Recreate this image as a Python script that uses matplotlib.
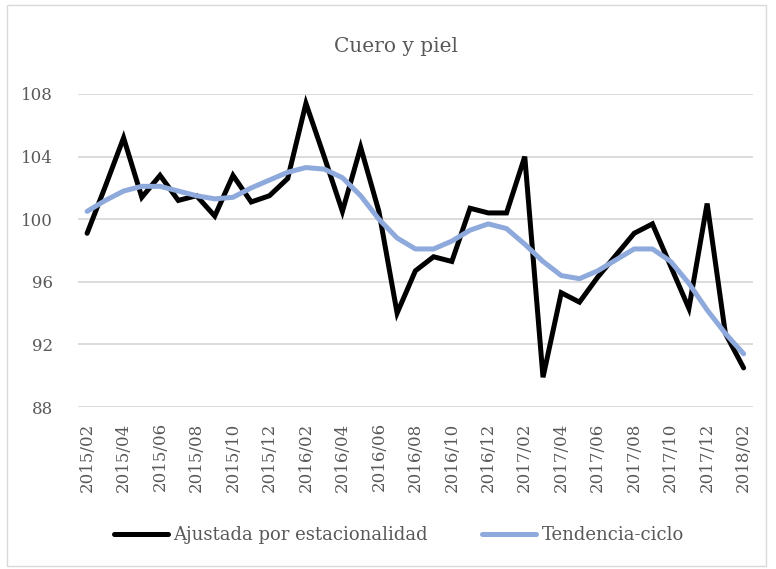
import matplotlib.pyplot as plt
import numpy as np
from matplotlib.patches import Rectangle

# monthly series 2015/02 - 2018/02
months = ['2015/02', '2015/03', '2015/04', '2015/05', '2015/06', '2015/07', '2015/08',
          '2015/09', '2015/10', '2015/11', '2015/12', '2016/01', '2016/02', '2016/03',
          '2016/04', '2016/05', '2016/06', '2016/07', '2016/08', '2016/09', '2016/10',
          '2016/11', '2016/12', '2017/01', '2017/02', '2017/03', '2017/04', '2017/05',
          '2017/06', '2017/07', '2017/08', '2017/09', '2017/10', '2017/11', '2017/12',
          '2018/01', '2018/02']

ajustada = [99.1, 102.1, 105.2, 101.4, 102.8, 101.2, 101.5, 100.2, 102.8, 101.1,
            101.5, 102.6, 107.4, 104.0, 100.5, 104.6, 100.5, 94.0, 96.7, 97.6,
            97.3, 100.7, 100.4, 100.4, 104.0, 89.9, 95.3, 94.7, 96.3, 97.7,
            99.1, 99.7, 97.0, 94.3, 101.0, 92.7, 90.5]

tendencia = [100.5, 101.2, 101.8, 102.1, 102.1, 101.8, 101.5, 101.3, 101.4, 102.0,
             102.5, 103.0, 103.3, 103.2, 102.65, 101.5, 100.0, 98.8, 98.1, 98.1,
             98.6, 99.3, 99.7, 99.4, 98.4, 97.3, 96.4, 96.2, 96.7, 97.4,
             98.1, 98.1, 97.3, 95.9, 94.2, 92.7, 91.4]

yticks = [88, 92, 96, 100, 104, 108]

plt.rcParams['font.family'] = ['DejaVu Serif']
txt = '#595959'

fig = plt.figure(figsize=(7.76, 5.69), dpi=100)
ax = fig.add_axes([0.1005, 0.2847, 0.8695, 0.5501])

x = np.arange(len(months))
ax.plot(x, ajustada, color='black', lw=3.6, solid_joinstyle='miter',
        solid_capstyle='round', label='Ajustada por estacionalidad')
ax.plot(x, tendencia, color='#8EA9DB', lw=3.6, solid_capstyle='round',
        label='Tendencia-ciclo')

ax.set_xlim(-0.5, len(months) - 0.5)
ax.set_ylim(88, 108)
ax.set_yticks(yticks)
ax.set_yticklabels([str(v) for v in yticks])
ax.set_xticks(x[::2])
ax.set_xticklabels(months[::2], rotation=90)
ax.tick_params(axis='both', length=0, labelsize=12, colors=txt)
ax.tick_params(axis='y', pad=18)
ax.tick_params(axis='x', pad=11)
ax.grid(axis='y', color='#d9d9d9', lw=1.3)
ax.set_axisbelow(True)
for s in ax.spines.values():
    s.set_visible(False)

fig.text(0.51, 0.918, 'Cuero y piel', ha='center', va='center', fontsize=14.5, color=txt)

fig.legend(loc='center', bbox_to_anchor=(0.514, 0.06), ncol=2, frameon=False,
           fontsize=13, labelcolor=txt, handlelength=3.0, handletextpad=0.3,
           columnspacing=3.0)

fig.patches.append(Rectangle((0.009, 0.006), 0.978, 0.985, transform=fig.transFigure,
                             fill=False, edgecolor='#d9d9d9', lw=1.0))

fig.savefig('out.png', dpi=100)
